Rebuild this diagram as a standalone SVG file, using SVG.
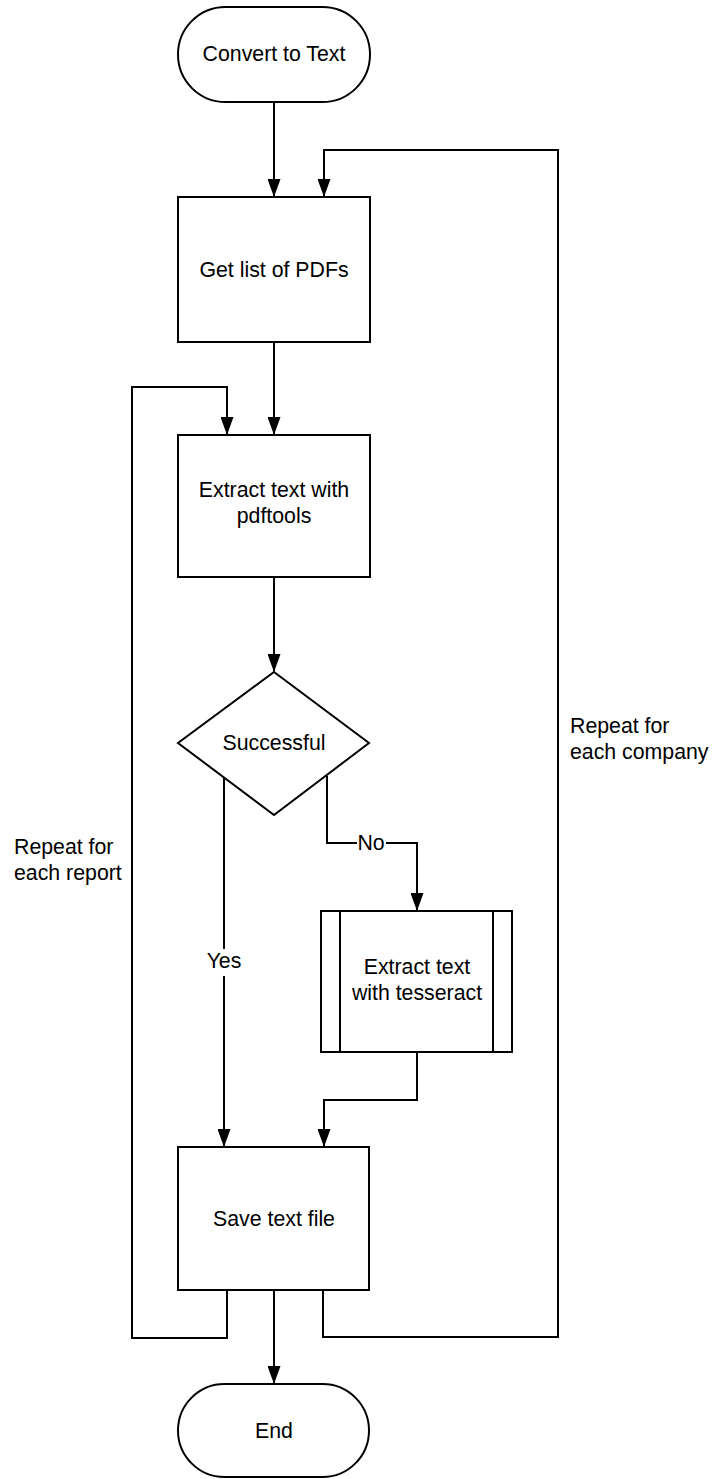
<svg xmlns="http://www.w3.org/2000/svg" width="713" height="1479" viewBox="0 0 713 1479">
<style>
.shape{fill:#fff;stroke:#000;stroke-width:2}
.conn{fill:none;stroke:#000;stroke-width:2}
text{font-family:"Liberation Sans",Arial,sans-serif;font-size:21.3px;fill:#000}
.c{text-anchor:middle}
</style>
<defs>
<marker id="ah" markerWidth="18" markerHeight="13" refX="17" refY="6.5" orient="auto" markerUnits="userSpaceOnUse" viewBox="0 0 18 13">
<path d="M0,0 L18,6.5 L0,13 Z" fill="#000"/>
</marker>
</defs>
<rect width="713" height="1479" fill="#fff"/>
<g id="connectors">
<path class="conn" d="M274,102 V196" marker-end="url(#ah)"/>
<path class="conn" d="M323,1290 V1337 H558 V150 H324 V196" marker-end="url(#ah)"/>
<path class="conn" d="M274,342 V434" marker-end="url(#ah)"/>
<path class="conn" d="M227,1290 V1338 H132 V387 H227 V434" marker-end="url(#ah)"/>
<path class="conn" d="M274,577 V671" marker-end="url(#ah)"/>
<path class="conn" d="M224,777 V949 M224,976 V1146" marker-end="url(#ah)"/>
<path class="conn" d="M327,776 V843 H357 M386,843 H417 V910" marker-end="url(#ah)"/>
<path class="conn" d="M417,1052 V1100 H324 V1146" marker-end="url(#ah)"/>
<path class="conn" d="M274,1290 V1383" marker-end="url(#ah)"/>
<text class="c" x="371" y="850">No</text>
<text class="c" x="224" y="968">Yes</text>
<text x="14" y="854">Repeat for</text>
<text x="14" y="880">each report</text>
<text x="570" y="733">Repeat for</text>
<text x="570" y="759">each company</text>
</g>
<g id="start">
<rect class="shape" x="178" y="7" width="192" height="95" rx="47.5"/>
<text class="c" x="274" y="61">Convert to Text</text>
</g>
<g id="getlist">
<rect class="shape" x="178" y="197" width="192" height="145"/>
<text class="c" x="274" y="277">Get list of PDFs</text>
</g>
<g id="pdftools">
<rect class="shape" x="178" y="435" width="192" height="142"/>
<text class="c" x="274" y="497">Extract text with</text>
<text class="c" x="274" y="523">pdftools</text>
</g>
<g id="successful">
<polygon class="shape" points="274,672 369,743 274,815 178,743"/>
<text class="c" x="274" y="750">Successful</text>
</g>
<g id="tesseract">
<rect class="shape" x="321" y="911" width="191" height="141"/>
<line class="shape" x1="340" y1="911" x2="340" y2="1052"/>
<line class="shape" x1="493" y1="911" x2="493" y2="1052"/>
<text class="c" x="417" y="974">Extract text</text>
<text class="c" x="417" y="1000">with tesseract</text>
</g>
<g id="save">
<rect class="shape" x="178" y="1147" width="191" height="143"/>
<text class="c" x="274" y="1226">Save text file</text>
</g>
<g id="end">
<rect class="shape" x="178" y="1384" width="191" height="93" rx="46.5"/>
<text class="c" x="274" y="1438">End</text>
</g>
</svg>
